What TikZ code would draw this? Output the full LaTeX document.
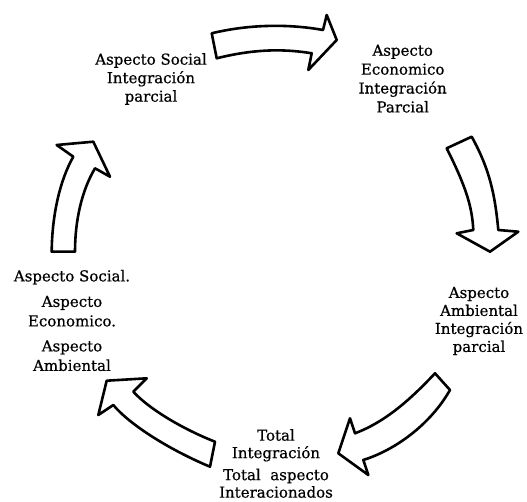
\documentclass[tikz,border=0pt]{standalone}
\usepackage{fontspec}
\setmainfont{DejaVu Serif}
\newfontfamily\lblfont[FakeBold=0.6]{DejaVu Serif}
\begin{document}
\begin{tikzpicture}[x=1pt,y=-1pt,
  lbl/.style={align=center,inner sep=0pt},
  bigarrow/.style={draw=black,fill=white,line width=2.6pt,line join=round}]
\useasboundingbox (0,0) rectangle (527,502);
% arrows
\draw[bigarrow] (211.7,33.3) .. controls (250,24) and (290,24) .. (323,30) -- (326.7,15) -- (336.7,40) -- (308.3,70) -- (311.7,53.3) .. controls (280,48) and (250,50) .. (216.7,58.3) -- cycle;
\draw[bigarrow] (446.7,148.3) .. controls (465,185) and (472,205) .. (473.3,230) -- (456.7,233.3) -- (490,251.7) -- (518.3,231.7) -- (498.3,230) .. controls (495,195) and (490,170) .. (471.7,136.7) -- cycle;
\draw[bigarrow] (435,373.3) .. controls (410,400) and (385,422) .. (355,433.3) -- (350,418.3) -- (338.3,453.3) -- (368.3,475) -- (363.3,460) .. controls (395,450) and (430,425) .. (450,390) -- cycle;
\draw[bigarrow] (215,441.7) .. controls (185,430) and (150,410) .. (133.3,391.7) -- (146.7,378.3) -- (106.7,380.7) -- (98.3,415) -- (113.3,405) .. controls (130,425) and (170,450) .. (210,466.7) -- cycle;
\draw[bigarrow] (51.7,251.7) .. controls (52,215) and (60,180) .. (73.3,156.7) -- (56.7,145) -- (93.3,141.7) -- (110,176.7) -- (95,168.3) .. controls (82,190) and (75,220) .. (75,251.7) -- cycle;
% labels
\node[lbl,font=\lblfont\fontsize{15}{18.5}\selectfont] (social) at (151,79) {Aspecto Social\\Integración\\parcial};
\node[lbl,font=\lblfont\fontsize{15}{18.9}\selectfont] (econ) at (402.7,78.7) {Aspecto\\Economico\\Integración\\Parcial};
\node[lbl,font=\lblfont\fontsize{15}{18}\selectfont] (amb) at (479,321) {Aspecto\\Ambiental\\Integración\\parcial};
\node[lbl,font=\lblfont\fontsize{15}{19.5}\selectfont] (todos) at (72,320.5) {Aspecto Social.\\[6pt]Aspecto\\Economico.\\[5.5pt]Aspecto\\Ambiental};
\node[lbl,font=\lblfont\fontsize{15}{17.5}\selectfont] (total) at (276,463.5) {Total\\Integración\\[4.5pt]Total\ \ aspecto\\Interacionados};
\end{tikzpicture}
\end{document}
